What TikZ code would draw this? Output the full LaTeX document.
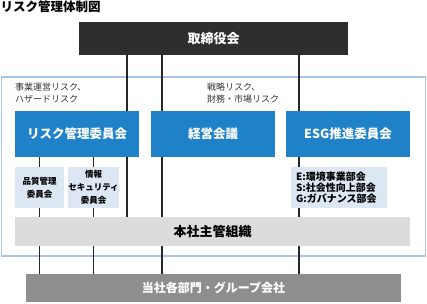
\documentclass[tikz,border=0pt]{standalone}
\usepackage{fontspec}
\setmainfont{Noto Sans CJK JP}
\newfontfamily\jpfont{Noto Sans CJK JP}
\definecolor{boardgray}{HTML}{2E2E2E}
\definecolor{committeeblue}{HTML}{1F82C8}
\definecolor{subblue}{HTML}{DDE7F4}
\definecolor{framecolor}{HTML}{A9C4E8}
\definecolor{officegray}{HTML}{DCDCDC}
\definecolor{groupgray}{HTML}{8E8E8E}
\tikzset{
  orgbox/.style={inner sep=0pt, align=center, font=\jpfont\bfseries},
  board/.style={orgbox, fill=boardgray, text=white, minimum width=269pt, minimum height=33pt, font=\jpfont\bfseries\fontsize{13}{15}\selectfont},
  committee/.style={orgbox, fill=committeeblue, text=white, minimum width=124pt, minimum height=46pt, font=\jpfont\bfseries\fontsize{12.5}{15}\selectfont},
  subcommittee/.style={orgbox, fill=subblue, minimum height=41pt, font=\jpfont\bfseries\fontsize{8.5}{12.5}\selectfont},
  riskarea/.style={anchor=north west, inner sep=0pt, align=left, text=black!80, font=\jpfont\fontsize{9}{12}\selectfont},
  link/.style={line width=1.2pt, draw=black!85}
}
\begin{document}
\begin{tikzpicture}[x=1pt, y=-1pt]
  \useasboundingbox (0,0) rectangle (427,303);

  % Define line positions
  \coordinate (l1) at (39.5,0);
  \coordinate (l2) at (93.5,0);
  \coordinate (l3) at (127,0);
  \coordinate (l4) at (162,0);
  \coordinate (l5) at (299,0);

  % Title
  \node[anchor=north west, inner sep=0pt, font=\jpfont\bfseries\fontsize{12.5}{14}\selectfont] (title) at (0.5,0) {リスク管理体制図};

  % Frame round the committees
  \draw[framecolor, line width=1.3pt] (1.5,77) rectangle (425.5,256);

  % Boxes
  \node[board] (board) at (213.5,38.5) {取締役会};
  \node[committee] (riskcom) at (77,134) {リスク管理委員会};
  \node[committee] (mgmt) at (213,134) {経営会議};
  \node[committee] (esgcom) at (348,134) {ESG推進委員会};
  \node[subcommittee, minimum width=49pt] (quality) at (39.5,187.5) {品質管理\\委員会};
  \node[subcommittee, minimum width=49pt, font=\jpfont\bfseries\fontsize{8.5}{13}\selectfont] (security) at (93.5,187.5) {情報\\セキュリティ\\委員会};
  \node[subcommittee, minimum width=96pt, align=left, text width=86pt, font=\jpfont\bfseries\fontsize{10}{11.3}\selectfont] (esgsub) at (339,187.5) {E:環境事業部会\\S:社会性向上部会\\G:ガバナンス部会};
  \node[orgbox, fill=officegray, minimum width=395pt, minimum height=29pt, font=\jpfont\bfseries\fontsize{13}{15}\selectfont] (office) at (212.5,231.5) {本社主管組織};
  \node[orgbox, fill=groupgray, text=white, minimum width=375pt, minimum height=28pt, font=\jpfont\bfseries\fontsize{12}{14}\selectfont] (group) at (213.5,288) {当社各部門・グループ会社};

  % Risk areas
  \node[riskarea] (opsrisk) at (15,83) {事業運営リスク、\\ハザードリスク};
  \node[riskarea] (stratrisk) at (207,83) {戦略リスク、\\財務・市場リスク};

  % Board to committees
  \draw[link] (board.south -| l3) -- (riskcom.north -| l3);
  \draw[link] (board.south -| l4) -- (mgmt.north -| l4);
  \draw[link] (board.south -| l5) -- (esgcom.north -| l5);

  % Committees to subcommittees and head office
  \draw[link] (riskcom.south -| l1) -- (quality.north);
  \draw[link] (quality.south) -- (office.north -| l1);
  \draw[link] (riskcom.south -| l2) -- (security.north);
  \draw[link] (security.south) -- (office.north -| l2);
  \draw[link] (riskcom.south -| l3) -- (office.north -| l3);
  \draw[link] (mgmt.south -| l4) -- (office.north -| l4);
  \draw[link] (esgcom.south -| l5) -- (esgsub.north -| l5);
  \draw[link] (esgsub.south -| l5) -- (office.north -| l5);

  % Head office to group
  \foreach \l in {l1,l2,l4,l5}
    \draw[link] (office.south -| \l) -- (group.north -| \l);

\end{tikzpicture}
\end{document}
